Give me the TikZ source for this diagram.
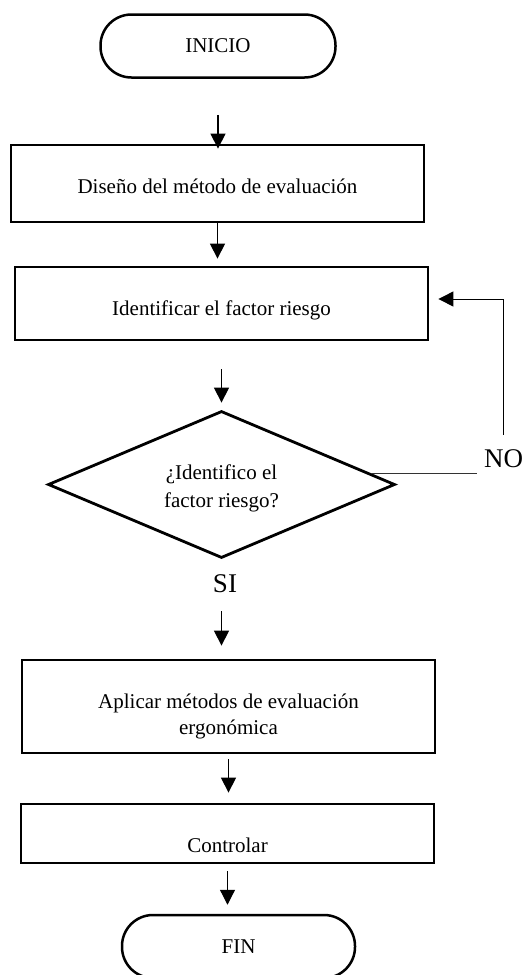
\documentclass[tikz,border=0pt]{standalone}
\usepackage{fontspec}
\setmainfont{Liberation Serif}
\usepackage{tikz}
\usetikzlibrary{shapes.geometric, arrows.meta}
\tikzstyle{arrow} = [line width=1.2pt, -{Triangle[length=15pt, width=15pt]}]

\begin{document}
\begin{tikzpicture}[
    x=1pt, y=-1pt,
    terminal/.style={rectangle, draw, line width=2.5pt, rounded corners=31pt, minimum width=235pt, minimum height=63pt, font=\fontsize{21pt}{26pt}\selectfont},
    stepbox/.style={rectangle, draw, line width=2.8pt, minimum width=413pt, inner ysep=0pt, align=center, font=\fontsize{21pt}{26pt}\selectfont},
    decision/.style={diamond, draw, line width=2.8pt, aspect=2.36, minimum width=347pt, minimum height=147pt, inner sep=0pt, align=center, font=\fontsize{21pt}{28pt}\selectfont},
    answer/.style={inner sep=0pt, font=\fontsize{27pt}{32pt}\selectfont},
    loop/.style={line width=1pt, -{Triangle[length=15pt, width=15pt]}},
    plain/.style={line width=1pt, draw=black!80}
]
    \useasboundingbox (0,0) rectangle (522,975);

    % Main column
    \node [terminal] (inicio) at (218,46) {INICIO};
    \node [stepbox, text height=48pt, text depth=29pt] (diseno) at (217.5,183.5) {Diseño del método de evaluación};
    \node [stepbox, text height=48pt, text depth=25pt] (identificar) at (221.5,303.5) {Identificar el factor riesgo};
    \node [decision, text height=45pt, text depth=0pt] (pregunta) at (221.5,484.5) {¿Identifico el\\factor riesgo?};
    \node [answer, anchor=base] (si) at (225,592) {SI};
    \node [stepbox, text height=74pt, text depth=19pt] (aplicar) at (228.5,706.5) {Aplicar métodos de evaluación\\ergonómica};
    \node [stepbox, text height=48pt, text depth=11pt] (controlar) at (227.5,833.5) {Controlar};
    \node [terminal, minimum width=233pt] (fin) at (238.5,946.5) {FIN};

    % Answer on the right
    \node [answer, anchor=base west] (no) at (484,467) {NO};

    % Connections
    \draw [arrow, shorten <=36pt, shorten >=-5pt] (inicio.south) -- (inicio.south |- diseno.north);
    \draw [arrow, shorten >=7pt] (diseno.south) -- (diseno.south |- identificar.north);
    \draw [arrow, shorten <=28pt, shorten >=7pt] (identificar.south) -- (identificar.south |- pregunta.north);
    \draw [arrow, shorten <=52pt, shorten >=13pt] (pregunta.south) -- (pregunta.south |- aplicar.north);
    \draw [arrow, shorten <=5pt, shorten >=10pt] (aplicar.south) -- (aplicar.south |- controlar.north);
    \draw [arrow, shorten <=7pt, shorten >=9pt] (controlar.south) -- (controlar.south |- fin.north);

    % Loop back
    \draw [plain, shorten >=7pt] (pregunta.4) -- (pregunta.4 -| no.west);
    \draw [loop, shorten <=14pt, shorten >=9pt] (no.north) |- ([yshift=4.5pt]identificar.east);
\end{tikzpicture}
\end{document}
